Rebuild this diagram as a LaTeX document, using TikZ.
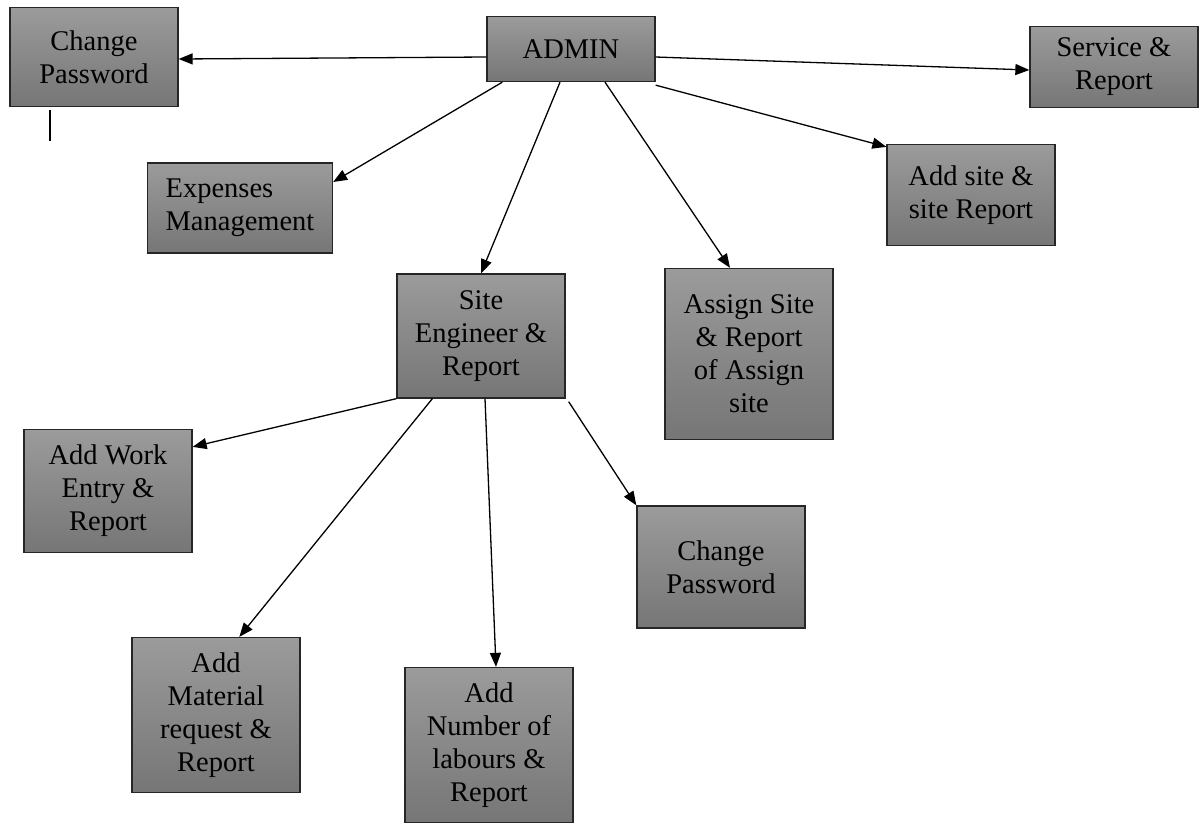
\documentclass[tikz,border=0pt]{standalone}
\usepackage{fontspec}
\setmainfont{Liberation Serif}
\usetikzlibrary{arrows.meta, positioning}
\definecolor{boxtop}{RGB}{155,155,155}
\definecolor{boxbot}{RGB}{118,118,118}

\begin{document}
\begin{tikzpicture}[
  x=1pt, y=-1pt,
  box/.style={draw=black!85, line width=1.3pt, rectangle, top color=boxtop, bottom color=boxbot,
    minimum width=168pt, inner sep=0pt, align=center, font=\fontsize{28.5}{33}\selectfont},
  >={Triangle[length=14pt,width=11pt]}
]
  \useasboundingbox (0,0) rectangle (1201,823);

  \node[box, minimum height=99pt] (pwdA) at (94,57) {Change\\Password};
  \node[box, minimum height=65pt] (admin) at (571,49) {ADMIN};
  \node[box, minimum height=81pt] (service) at (1114,67) {Service \&\\Report};
  \node[box, minimum width=185pt, minimum height=90pt, align=left] (expenses) at (240,208) {Expenses\\Management};
  \node[box, minimum height=101pt] (addsite) at (971,195) {Add site \&\\site Report};
  \node[box, minimum height=124pt] (engineer) at (481,336) {Site\\Engineer \&\\Report};
  \node[box, minimum height=171pt] (assign) at (749,354) {Assign Site\\\& Report\\of Assign\\site};
  \node[box, minimum height=123pt] (workentry) at (108,491) {Add Work\\Entry \&\\Report};
  \node[box, minimum height=122pt] (pwdB) at (721,567) {Change\\Password};
  \node[box, minimum height=155pt] (material) at (216,715) {Add\\Material\\request \&\\Report};
  \node[box, minimum height=155pt] (labours) at (489,745) {Add\\Number of\\labours \&\\Report};

  \draw[->, line width=1.3pt] ([yshift=-8pt]admin.west) -- ([yshift=-2pt]pwdA.east);
  \draw[->, line width=1.3pt] ([yshift=-8pt]admin.east) -- ([yshift=-3pt]service.west);
  \draw[->, line width=1.3pt] ([xshift=16pt]admin.south west) -- ([yshift=26pt]expenses.east);
  \draw[->, line width=1.3pt] ([xshift=-11pt]admin.south) -- (engineer.north);
  \draw[->, line width=1.3pt] ([xshift=34pt]admin.south) -- ([xshift=-19pt]assign.north);
  \draw[->, line width=1.3pt] ([yshift=-3pt]admin.south east) -- ([yshift=-3pt]addsite.north west);
  \draw[->, line width=1.3pt] (engineer.south west) -- ([yshift=-18pt]workentry.north east);
  \draw[->, line width=1.3pt] ([xshift=36pt]engineer.south west) -- ([xshift=108pt]material.north west);
  \draw[->, line width=1.3pt] ([xshift=4pt]engineer.south) -- ([xshift=7pt]labours.north);
  \draw[->, line width=1.3pt] ([xshift=3pt,yshift=-3pt]engineer.south east) -- (pwdB.north west);
  \draw[line width=1.3pt] ([xshift=-44pt,yshift=-3pt]pwdA.south) -- ++(0,31);
\end{tikzpicture}
\end{document}
